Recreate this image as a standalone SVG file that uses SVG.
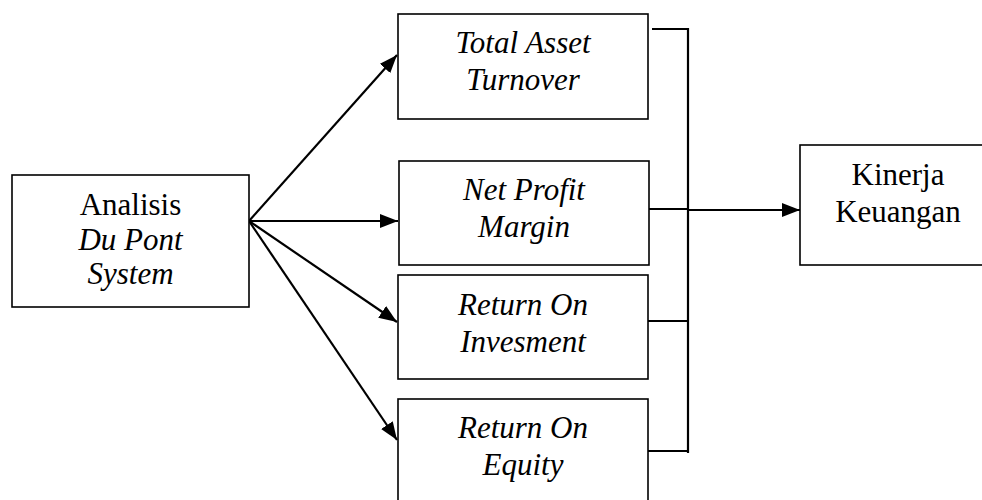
<svg xmlns="http://www.w3.org/2000/svg" width="982" height="500" viewBox="0 0 982 500" font-family="Liberation Serif, serif">
<style>
.box{fill:#fff;stroke:#000;stroke-width:1.6}
text{font-size:31px;fill:#000;text-anchor:middle}
.i{font-style:italic}
.ln{fill:none;stroke:#000;stroke-width:2.2}
</style>
<defs>
<marker id="ah" viewBox="0 0 18 14" refX="18" refY="7" markerWidth="18" markerHeight="14" markerUnits="userSpaceOnUse" orient="auto">
<path d="M0,0 L18,7 L0,14 Z" fill="#000"/>
</marker>
</defs>
<rect width="982" height="500" fill="#fff"/>
<g id="connectors">
<line class="ln" x1="249" y1="221" x2="397" y2="55" marker-end="url(#ah)"/>
<line class="ln" x1="249" y1="221" x2="398" y2="221" marker-end="url(#ah)"/>
<line class="ln" x1="249" y1="221" x2="397" y2="322" marker-end="url(#ah)"/>
<line class="ln" x1="249" y1="221" x2="397" y2="440" marker-end="url(#ah)"/>
<line class="ln" x1="652" y1="29" x2="688" y2="29"/>
<line class="ln" x1="688" y1="28" x2="688" y2="453"/>
<line class="ln" x1="649" y1="209" x2="688" y2="209"/>
<line class="ln" x1="648" y1="321" x2="688" y2="321"/>
<line class="ln" x1="648" y1="451" x2="688" y2="451"/>
<line class="ln" x1="688" y1="210" x2="800" y2="210" marker-end="url(#ah)"/>
</g>
<g id="analisis">
<rect class="box" x="12" y="175" width="237" height="132"/>
<text x="130.5" y="215">Analisis</text>
<text class="i" x="130.5" y="250">Du Pont</text>
<text class="i" x="130.5" y="284">System</text>
</g>
<g id="tat">
<rect class="box" x="398" y="14" width="250" height="105"/>
<text class="i" x="523" y="53">Total Asset</text>
<text class="i" x="523" y="90">Turnover</text>
</g>
<g id="npm">
<rect class="box" x="399" y="161" width="250" height="104"/>
<text class="i" x="524" y="200">Net Profit</text>
<text class="i" x="524" y="237">Margin</text>
</g>
<g id="roi">
<rect class="box" x="398" y="275" width="250" height="104"/>
<text class="i" x="523" y="315">Return On</text>
<text class="i" x="523" y="352">Invesment</text>
</g>
<g id="roe">
<rect class="box" x="398" y="399" width="250" height="110"/>
<text class="i" x="523" y="438">Return On</text>
<text class="i" x="523" y="475">Equity</text>
</g>
<g id="kinerja">
<rect class="box" x="800" y="145" width="200" height="120"/>
<text x="898" y="185">Kinerja</text>
<text x="898" y="222">Keuangan</text>
</g>
</svg>
